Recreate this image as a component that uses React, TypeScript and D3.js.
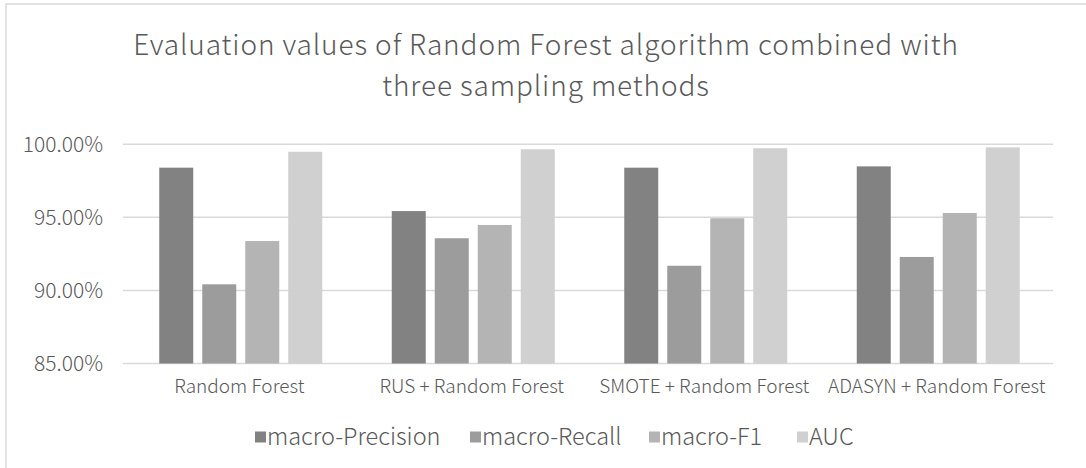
import React from "react";
import * as d3 from "d3";

const categories = ["Random Forest", "RUS + Random Forest", "SMOTE + Random Forest", "ADASYN + Random Forest"];
const seriesNames = ["macro-Precision", "macro-Recall", "macro-F1", "AUC"];
const precision = [0.9840, 0.9543, 0.9840, 0.9849];
const recall = [0.9042, 0.9357, 0.9169, 0.9229];
const f1 = [0.9338, 0.9448, 0.9494, 0.9530];
const auc = [0.9949, 0.9966, 0.9973, 0.9979];
const yTicks = [0.85, 0.9, 0.95, 1.0];
const colors = ["#828282", "#9c9c9c", "#b4b4b4", "#d0d0d0"];

const seriesValues = [precision, recall, f1, auc];

const W = 1086;
const H = 468;
const FONT = "'Noto Sans CJK SC', 'Noto Sans', sans-serif";
const TXT = "#595959";

export default function App() {
  const plotL = 123;
  const plotR = 1053;
  const y = d3.scaleLinear().domain([0.85, 1.0]).range([363.5, 144.3]);
  const x0 = d3.scaleBand<string>().domain(categories).range([plotL, plotR]).padding(0);
  const groupW = 163;
  const x1 = d3
    .scaleBand<string>()
    .domain(seriesNames)
    .range([0, groupW])
    .paddingInner(9 / 43)
    .paddingOuter(0);
  const fmt = d3.format(".2%");

  const legendX = [255, 470, 649, 797];

  return (
    <svg
      width={W}
      height={H}
      style={{ position: "absolute", left: 0, top: 0, background: "#fff" }}
      fontFamily={FONT}
    >
      <rect x={6} y={4} width={W + 10} height={H + 10} fill="#fff" stroke="#d9d9d9" strokeWidth={1.5} />
      <text x={546} y={55} textAnchor="middle" fontSize={28} letterSpacing={0.9} fill={TXT} fontWeight={300}>
        Evaluation values of Random Forest algorithm combined with
      </text>
      <text x={546} y={96} textAnchor="middle" fontSize={28} letterSpacing={0.9} fill={TXT} fontWeight={300}>
        three sampling methods
      </text>
      {yTicks.map((t) => (
        <g key={t}>
          <line x1={plotL} x2={plotR} y1={y(t)} y2={y(t)} stroke="#d9d9d9" strokeWidth={1.5} />
          <text x={103} y={y(t)} dy="0.35em" textAnchor="end" fontSize={21} fill={TXT} fontWeight={300}>
            {fmt(t)}
          </text>
        </g>
      ))}
      {categories.map((c, ci) => {
        const cx = (x0(c) as number) + x0.bandwidth() / 2;
        const gx = cx - groupW / 2 + 1.5;
        return (
          <g key={c}>
            {seriesNames.map((s, si) => {
              const v = seriesValues[si][ci];
              return (
                <rect
                  key={s}
                  x={gx + (x1(s) as number)}
                  y={y(v)}
                  width={x1.bandwidth()}
                  height={y(0.85) - y(v)}
                  fill={colors[si]}
                />
              );
            })}
            <text x={cx} y={386} dy="0.35em" textAnchor="middle" fontSize={19} fill={TXT} fontWeight={300}>
              {c}
            </text>
          </g>
        );
      })}
      {seriesNames.map((s, si) => (
        <g key={s}>
          <rect x={legendX[si]} y={431.5} width={11} height={11} fill={colors[si]} />
          <text x={legendX[si] + 12} y={437} dy="0.35em" fontSize={23.5} fill={TXT} fontWeight={300}>
            {s}
          </text>
        </g>
      ))}
    </svg>
  );
}
